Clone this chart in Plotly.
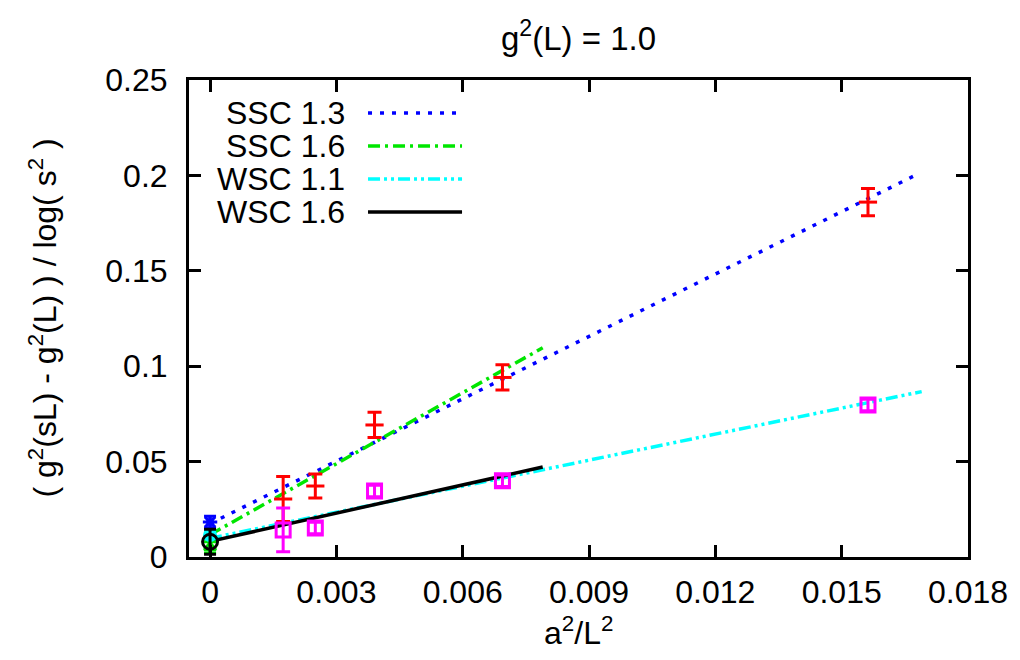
import plotly.graph_objects as go

# ---------------- data ----------------
# lattice points a^2/L^2
x_lat = [0.001736, 0.0025, 0.003906, 0.006944, 0.015625]
# SSC data (red)
y_ssc = [0.0304, 0.0372, 0.0692, 0.0941, 0.1860]
e_ssc = [0.0118, 0.0063, 0.0066, 0.0066, 0.0071]
# WSC data (magenta)
y_wsc = [0.0142, 0.0152, 0.0346, 0.0400, 0.0797]
e_wsc = [0.0115, 0.0030, 0.0030, 0.0030, 0.0030]

# continuum extrapolations at a^2/L^2 = 0
cont_names = ["SSC 1.3", "SSC 1.6", "WSC 1.1", "WSC 1.6"]
cont_y = [0.0183, 0.0050, 0.0115, 0.0080]
cont_e = [0.0030, 0.0030, 0.0020, 0.0065]

# linear fits: intercept, slope, x-range end
fit_names = ["SSC 1.3", "SSC 1.6", "WSC 1.1", "WSC 1.6"]
fit_icpt = [0.0175, 0.0117, 0.0098, 0.0082]
fit_slope = [10.9, 12.4, 4.55, 4.93]
fit_xmax = [0.0168, 0.0079, 0.0169, 0.0079]

x_ticks = [0, 0.003, 0.006, 0.009, 0.012, 0.015, 0.018]
x_ticktext = ["0", "0.003", "0.006", "0.009", "0.012", "0.015", "0.018"]
y_ticks = [0, 0.05, 0.1, 0.15, 0.2, 0.25]
y_ticktext = ["0", "0.05", "0.1", "0.15", "0.2", "0.25"]

# ---------------- styles ----------------
FONT = "Liberation Sans, Arial, Helvetica, sans-serif"
FS = 32
fit_colors = ["#0000ff", "#00e600", "#00ffff", "#000000"]
fit_dash = ["4px,8px", "12px,5px,3px,5px", "12px,4px,3px,4px,3px,4px", "solid"]
cont_symbols = ["asterisk-open", "triangle-up-open", "circle", "circle-open"]
cont_sizes = [12, 10, 11, 15]

fig = go.Figure()

# fit lines
for name, b, m, xm, c, d in zip(fit_names, fit_icpt, fit_slope, fit_xmax, fit_colors, fit_dash):
    xs = [0.0, xm]
    ys = [b + m * v for v in xs]
    fig.add_trace(go.Scatter(x=xs, y=ys, mode="lines", name=name,
                             line=dict(color=c, width=3.5, dash=d), showlegend=False))

# SSC data
fig.add_trace(go.Scatter(
    x=x_lat, y=y_ssc, mode="markers", showlegend=False,
    marker=dict(symbol="line-ew-open", size=13, color="#ff0000",
                line=dict(color="#ff0000", width=3)),
    error_y=dict(type="data", array=e_ssc, color="#ff0000", thickness=3, width=7)))

# WSC data
fig.add_trace(go.Scatter(
    x=x_lat, y=y_wsc, mode="markers", showlegend=False,
    marker=dict(symbol="square-open", size=14, color="#ff00ff",
                line=dict(color="#ff00ff", width=3)),
    error_y=dict(type="data", array=e_wsc, color="#ff00ff", thickness=3, width=7)))

# continuum points
for yv, ev, c, s, sz in zip(cont_y, cont_e, fit_colors, cont_symbols, cont_sizes):
    fig.add_trace(go.Scatter(
        x=[0.0], y=[yv], mode="markers", showlegend=False,
        marker=dict(symbol=s, size=sz, color=c, line=dict(color=c, width=3)),
        error_y=dict(type="data", array=[ev], color=c, thickness=3, width=6)))

# manual legend (text on the left, sample line on the right, like gnuplot)
leg_y = [0.9308, 0.8616, 0.7925, 0.7233]
annotations = []
shapes = []
for name, c, d, yy in zip(fit_names, fit_colors, fit_dash, leg_y):
    annotations.append(dict(text=name, xref="x domain", yref="y domain", x=0.2028, y=yy,
                            xanchor="right", yanchor="middle", showarrow=False,
                            font=dict(family=FONT, size=FS, color="black")))
    shapes.append(dict(type="line", xref="x domain", yref="y domain",
                       x0=0.2298, x1=0.3505, y0=yy, y1=yy,
                       line=dict(color=c, width=3.5, dash=d)))

# axis titles
annotations.append(dict(text="( g<sup>2</sup>(sL) - g<sup>2</sup>(L) ) / log( s<sup>2</sup> )",
                        xref="paper", yref="paper", x=-0.1887, y=0.5, textangle=-90,
                        xanchor="center", yanchor="middle", showarrow=False,
                        font=dict(family=FONT, size=FS, color="black")))
annotations.append(dict(text="a<sup>2</sup>/L<sup>2</sup>",
                        xref="paper", yref="paper", x=0.5, y=-0.155,
                        xanchor="center", yanchor="middle", showarrow=False,
                        font=dict(family=FONT, size=FS, color="black")))

fig.update_layout(
    width=1020, height=660,
    margin=dict(l=189, r=52, t=80, b=103),
    paper_bgcolor="white", plot_bgcolor="white",
    font=dict(family=FONT, size=FS, color="black"),
    title=dict(text="g<sup>2</sup>(L) = 1.0", x=0.5, xref="paper", xanchor="center",
               y=1 - 38 / 660, yref="container", yanchor="middle",
               font=dict(family=FONT, size=33, color="black")),
    annotations=annotations,
    shapes=shapes,
    showlegend=False,
)
fig.update_xaxes(range=[-0.0005, 0.018], tickvals=x_ticks, ticktext=x_ticktext,
                 showgrid=False, zeroline=False, showline=True, linecolor="black",
                 linewidth=3, mirror="ticks", ticks="inside", ticklen=12, tickwidth=2.5,
                 tickcolor="black", ticklabelstandoff=5)
fig.update_yaxes(range=[0, 0.25], tickvals=y_ticks, ticktext=y_ticktext,
                 showgrid=False, zeroline=False, showline=True, linecolor="black",
                 linewidth=3, mirror="ticks", ticks="inside", ticklen=12, tickwidth=2.5,
                 tickcolor="black", ticklabelstandoff=12)

fig.write_html("out.html")
